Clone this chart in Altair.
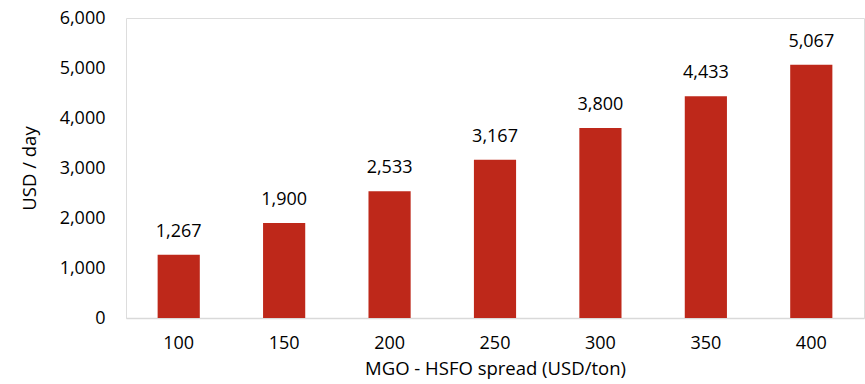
import altair as alt
import pandas as pd

spread = ["100", "150", "200", "250", "300", "350", "400"]
usd_day = [1267, 1900, 2533, 3167, 3800, 4433, 5067]

df = pd.DataFrame({"spread": spread, "value": usd_day})

FONT = "Open Sans"
RED = "#BE281A"

base = alt.Chart(df).encode(
    x=alt.X(
        "spread:N",
        sort=spread,
        scale=alt.Scale(paddingInner=0.6, paddingOuter=0.3),
        axis=alt.Axis(
            title="MGO - HSFO spread (USD/ton)",
            labelAngle=0,
            labelFont=FONT,
            labelFontSize=18,
            labelColor="#000000",
            labelPadding=16,
            ticks=False,
            domainColor="#D9D9D9",
            domainWidth=1.5,
            titleFont=FONT,
            titleFontSize=18.5,
            titleFontWeight="normal",
            titleColor="#000000",
            titlePadding=7,
        ),
    ),
    y=alt.Y(
        "value:Q",
        scale=alt.Scale(domain=[0, 6000]),
        axis=alt.Axis(
            title="USD / day",
            values=[0, 1000, 2000, 3000, 4000, 5000, 6000],
            format=",.0f",
            grid=False,
            domain=False,
            ticks=False,
            labelFont=FONT,
            labelFontSize=18,
            labelColor="#000000",
            labelPadding=21,
            titleFont=FONT,
            titleFontSize=18.5,
            titleFontWeight="normal",
            titleColor="#000000",
            titlePadding=20,
        ),
    ),
)

bars = base.mark_bar(color=RED)
labels = base.mark_text(
    dy=-23, font=FONT, fontSize=18, color="#000000"
).encode(text=alt.Text("value:Q", format=",.0f"))

chart = (
    (bars + labels)
    .properties(
        width=738,
        height=300,
        padding={"left": 126, "top": 18, "right": 1, "bottom": 66},
        autosize=alt.AutoSizeParams(type="none"),
    )
    .configure_view(stroke=None)
    .configure(background="white")
)

chart.save("out.html", embed_options={"renderer": "svg", "actions": False})
